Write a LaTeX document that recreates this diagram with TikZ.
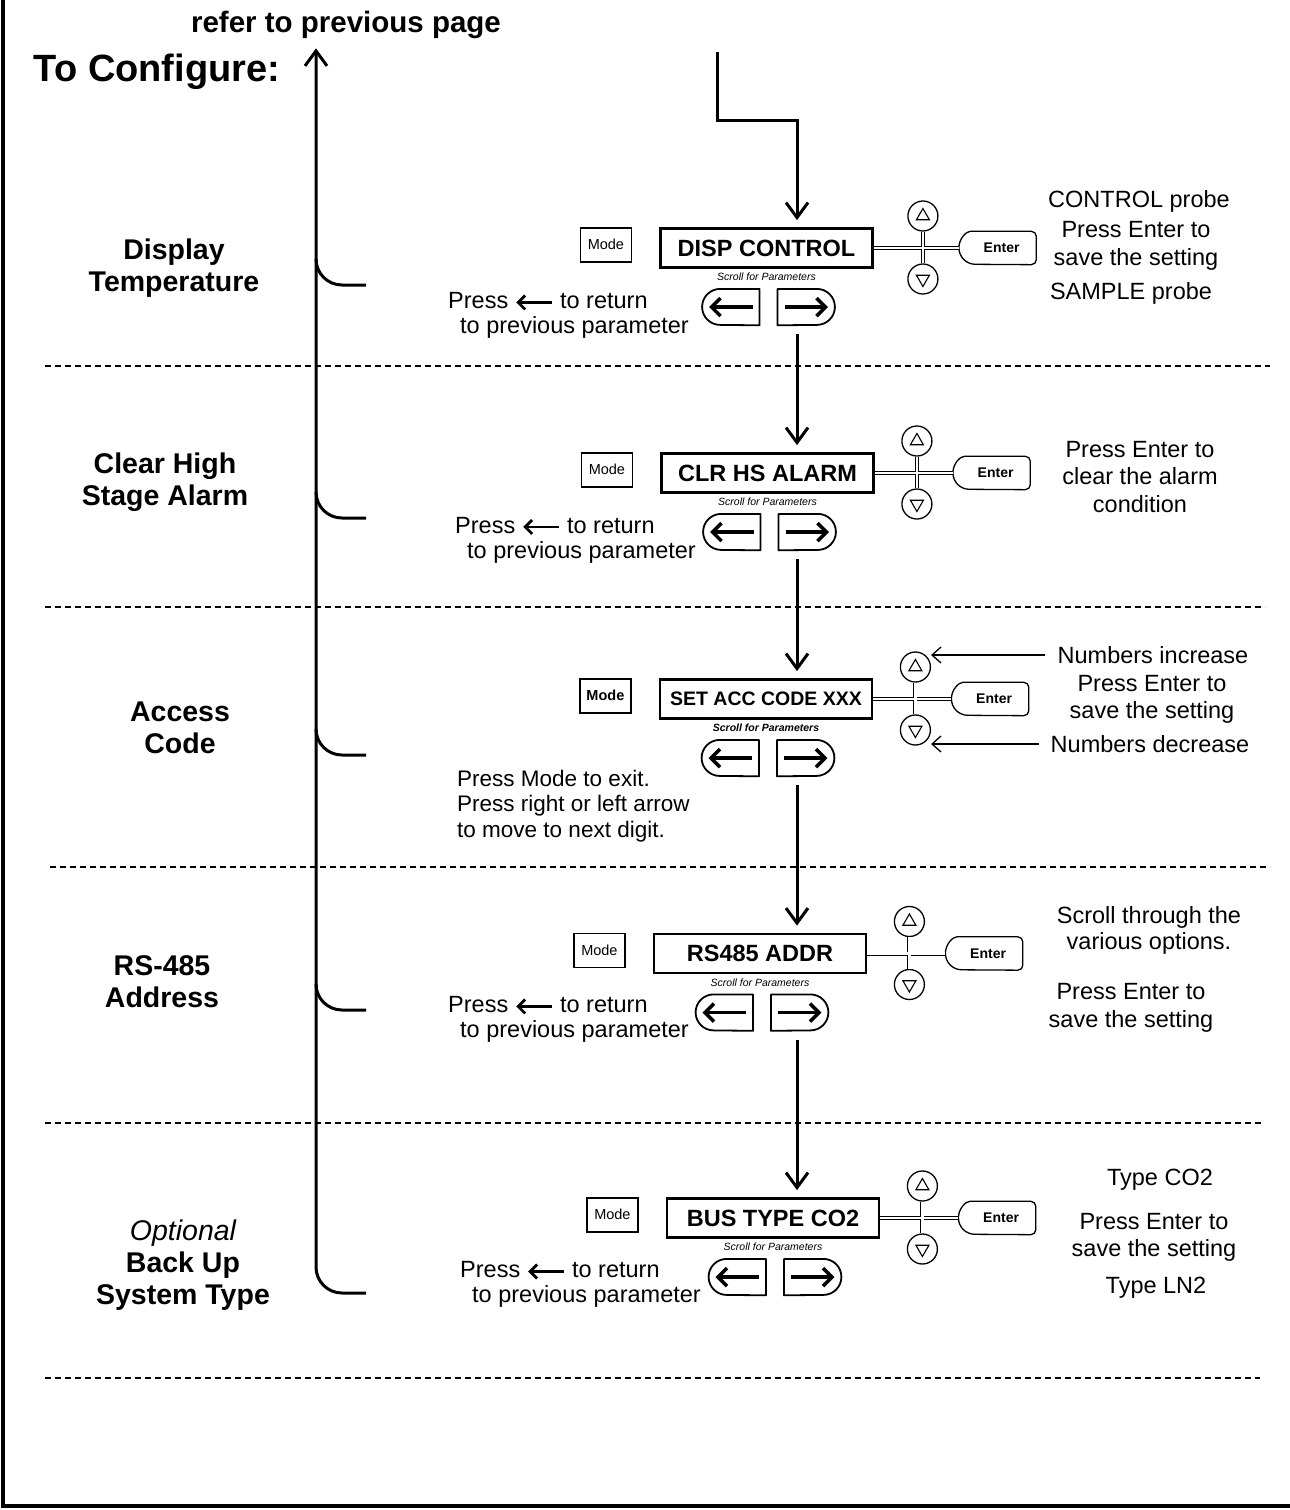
\documentclass[tikz,border=0pt]{standalone}
\usepackage{fontspec}
\setmainfont{Liberation Sans}
\usetikzlibrary{arrows.meta,positioning,shapes.geometric}

% small back arrow used inside the notes
\newcommand{\backarrow}{\tikz[baseline=-0.5ex]\draw[line width=2.8pt,-{Straight Barb[length=7pt,width=14pt]}] (0pt,0pt) -- (-36pt,0pt);}

% one display with its Mode key, scroll keys and keypad
% #1 name, #2 position, #3 display text, #4 keypad offset, #5 Enter offset
\newcommand{\panel}[5]{%
  \node[disp] (d#1) at #2 {#3};
  \node[modekey, anchor=north east] (m#1) at ([xshift=-27pt]d#1.north west) {Mode};
  \node[scroll, below=4pt of d#1] (s#1) {Scroll for Parameters};
  \node[keybox, below left=20pt and 7pt of d#1.south] (l#1) {};
  \node[keybox, below right=20pt and 11pt of d#1.south] (r#1) {};
  \draw[keyline] (l#1.north east) -- ([xshift=18pt]l#1.north west)
    arc[start angle=90, end angle=270, radius=18pt] -- (l#1.south east) -- cycle;
  \draw[keyline] (r#1.north west) -- ([xshift=-18pt]r#1.north east)
    arc[start angle=90, end angle=-90, radius=18pt] -- (r#1.south west) -- cycle;
  \draw[keyarrow] ([xshift=-7pt]l#1.east) -- ([xshift=7pt]l#1.west);
  \draw[keyarrow] ([xshift=7pt]r#1.west) -- ([xshift=-7pt]r#1.east);
  \node[updown] (u#1) at ([xshift=#4pt, yshift=32pt]d#1.east) {};
  \node[updown] (v#1) at ([xshift=#4pt, yshift=-31pt]d#1.east) {};
  \node[tri] at (u#1) {};
  \node[tri, shape border rotate=180] at (v#1) {};
  \node[enterkey, right=#5pt of d#1] (e#1) {\hspace*{8pt}Enter};
  \draw[line width=1.3pt] ([xshift=16.5pt]e#1.north west) arc[start angle=90, end angle=270, radius=16.5pt]
    [rounded corners=5pt] -- (e#1.south east) -- (e#1.north east) -- cycle;
  \draw[dbl] (d#1) -- (e#1) (u#1) -- (v#1);
}

\begin{document}
\begin{tikzpicture}[x=1pt, y=-1pt,
    disp/.style={draw, line width=2.8pt, minimum width=212pt, minimum height=39pt, inner sep=0pt,
      font=\fontsize{23.5}{26}\selectfont\bfseries},
    modekey/.style={draw, line width=1.4pt, minimum width=51pt, minimum height=34pt, inner sep=0pt,
      font=\fontsize{14.5}{16}\selectfont},
    scroll/.style={inner sep=0pt, font=\fontsize{10.5}{12}\selectfont\itshape},
    keybox/.style={minimum width=57pt, minimum height=36pt, inner sep=0pt},
    keyline/.style={line width=1.8pt, line join=round},
    keyarrow/.style={line width=3.5pt, -{Straight Barb[length=9pt,width=18pt]}},
    updown/.style={draw, circle, line width=1.3pt, minimum size=30pt, inner sep=0pt},
    tri/.style={draw, regular polygon, regular polygon sides=3, minimum size=15pt, inner sep=0pt, line width=1.1pt},
    enterkey/.style={minimum width=77pt, minimum height=33pt, inner sep=0pt,
      font=\fontsize{14}{16}\selectfont\bfseries},
    dbl/.style={double, double distance=2.2pt, line width=0.9pt},
    flow/.style={line width=3pt, -{Straight Barb[length=15pt,width=22pt]}},
    pointer/.style={line width=1.3pt, -{Straight Barb[length=9pt,width=16pt]}},
    spine/.style={line width=3pt},
    stage/.style={align=center, font=\fontsize{28.5}{32}\selectfont\bfseries},
    note/.style={align=left, anchor=west, inner sep=0pt, font=\fontsize{23.5}{25}\selectfont},
    hint/.style={align=center, inner sep=0pt, font=\fontsize{23.5}{27.5}\selectfont},
    sep/.style={line width=1.2pt, dash pattern=on 6pt off 4pt}]
  \useasboundingbox (0,0) rectangle (1290,1510);
  \draw[line width=3.5pt] (3,0) -- (3,1506) -- (1290,1506);

  % headings
  \node[font=\fontsize{29.5}{32}\selectfont\bfseries] (refer) at (346,25) {refer to previous page};
  \node[font=\fontsize{38}{40}\selectfont\bfseries] (title) at (157,72) {To Configure:};

  % stage labels
  \node[stage] (t1) at (174,268) {Display\\Temperature};
  \node[stage] (t2) at (165,482) {Clear High\\Stage Alarm};
  \node[stage] (t3) at (180,727.5) {Access\\Code};
  \node[stage] (t4) at (162,981.5) {RS-485\\Address};
  \node[stage] (t5) at (183,1265) {{\mdseries\itshape Optional}\\Back Up\\System Type};

  % the spine back to the previous page
  \coordinate (sp) at (316,1267);
  \draw[flow, shorten >=6pt] (366,1293) -- (342,1293) to[out=180,in=-90] (sp) -- (refer.south -| sp);
  \foreach \y in {285,518,755,1010}
    \draw[spine] (316,\y-26) to[out=-90,in=180] (342,\y) -- (366,\y);

  % separators
  \foreach \y/\a/\b in {366/45/1270, 607/45/1265, 867/50/1270, 1123/45/1262, 1378/45/1260}
    \draw[sep] (\a,\y) -- (\b,\y);

  % panels
  \panel{1}{(766.5,248)}{DISP CONTROL}{49}{85}
  \panel{2}{(767.5,473)}{CLR HS ALARM}{42}{78}
  \begin{scope}[disp/.append style={font=\fontsize{19.5}{24}\selectfont\bfseries},
      modekey/.append style={font=\fontsize{14.5}{16}\selectfont\bfseries},
      scroll/.append style={font=\fontsize{10.5}{12}\selectfont\bfseries\itshape}]
    \panel{3}{(766,699)}{SET ACC CODE XXX}{42}{78}
  \end{scope}
  \panel{4}{(760,953.5)}{RS485 ADDR}{42}{78}
  \panel{5}{(773,1218)}{BUS TYPE CO2}{42}{78}

  % flow down the panels
  \coordinate (src) at (717,52);
  \coordinate (bend) at (797,120);
  \draw[flow, shorten >=7pt] (src) |- (bend) -- (d1.north -| bend);
  \foreach \a/\b in {1/2,2/3,3/4,4/5}
    \draw[flow, shorten <=9pt, shorten >=7pt] (r\a.south -| bend) -- (d\b.north -| bend);

  % notes on the left
  \node[note] (n1) at (448,315.5) {Press \backarrow{} to return\\\hspace*{12pt}to previous parameter};
  \node[note] (n2) at (455,540) {Press \backarrow{} to return\\\hspace*{12pt}to previous parameter};
  \node[note, font=\fontsize{22.5}{25.5}\selectfont] (n3) at (457,806) {Press Mode to exit.\\Press right or left arrow\\to move to next digit.};
  \node[note] (n4) at (448,1019.5) {Press \backarrow{} to return\\\hspace*{12pt}to previous parameter};
  \node[note] (n5) at (460,1284.5) {Press \backarrow{} to return\\\hspace*{12pt}to previous parameter};

  % notes on the right
  \node[hint] (h1a) at (1139,201) {CONTROL probe};
  \node[hint] (h1b) at (1136,246) {Press Enter to\\save the setting};
  \node[hint] (h1c) at (1131,293) {SAMPLE probe};
  \node[hint] (h2) at (1140,477) {Press Enter to\\clear the alarm\\condition};
  \node[hint] (h3a) at (1153,655) {Numbers increase};
  \node[hint] (h3b) at (1152,699.5) {Press Enter to\\save the setting};
  \node[hint] (h3c) at (1150,744) {Numbers decrease};
  \draw[pointer, shorten <=12pt] (h3a.west) -- (h3a.west -| u3.east);
  \draw[pointer, shorten <=12pt] (h3c.west) -- (h3c.west -| v3.east);
  \node[hint, font=\fontsize{23.5}{26}\selectfont] (h4a) at (1149,930) {Scroll through the\\various options.};
  \node[hint] (h4b) at (1131,1008) {Press Enter to\\save the setting};
  \node[hint] (h5a) at (1160,1180) {Type CO2};
  \node[hint] (h5b) at (1154,1237.5) {Press Enter to\\save the setting};
  \node[hint] (h5c) at (1156,1288) {Type LN2};
\end{tikzpicture}
\end{document}
